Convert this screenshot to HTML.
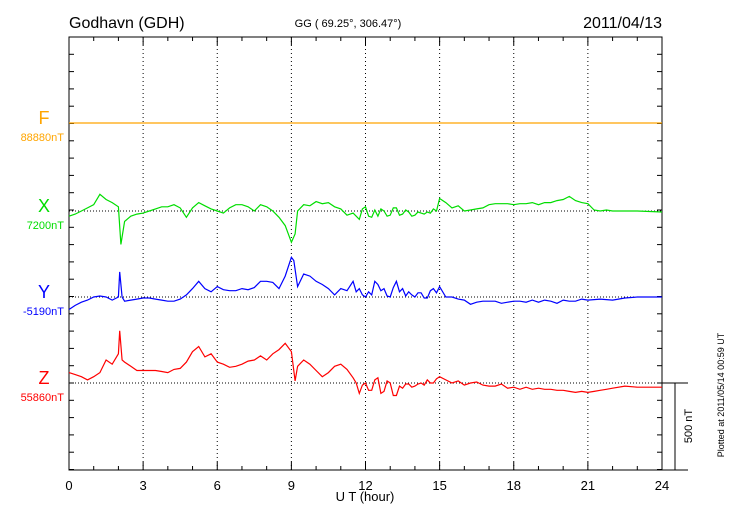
<!DOCTYPE html>
<html><head><meta charset="utf-8"><style>
body{margin:0;background:#fff;width:730px;height:520px;overflow:hidden}
svg text{font-family:"Liberation Sans",sans-serif}
</style></head><body>
<svg id="c" width="730" height="520" xmlns="http://www.w3.org/2000/svg">
<text x="69" y="28" font-size="16">Godhavn (GDH)</text>
<text x="348" y="27" font-size="11" text-anchor="middle">GG ( 69.25°, 306.47°)</text>
<text x="662" y="28" font-size="16" text-anchor="end">2011/04/13</text>
<text x="365" y="501" font-size="13" text-anchor="middle">U T (hour)</text>
<text transform="translate(724,395) rotate(-90)" font-size="9" text-anchor="middle">Plotted at 2011/05/14 00:59 UT</text>
<text transform="translate(692,426) rotate(-90)" font-size="11" text-anchor="middle">500 nT</text>
<g id="g"></g>
</svg>
<script>
const tickHours=[0,3,6,9,12,15,18,21,24];
const comps=["F","X","Y","Z"];
const baseLabels=["88880nT","7200nT","-5190nT","55860nT"];
const tF=[0,24];
const vF=[0,0];
const tMid=[11.5,11.625,11.75,11.875,12,12.125,12.25,12.375,12.5,12.625,12.75,12.875,13,13.125,13.25,13.375,13.5,13.625,13.75,13.875,14,14.125,14.25,14.375,14.5,14.625,14.75,14.875,15];
const tX=[0,0.25,0.5,0.75,1,1.25,1.5,1.75,2,2.1,2.25,2.5,2.75,3,3.25,3.5,3.75,4,4.25,4.5,4.75,5,5.25,5.5,5.75,6,6.25,6.5,6.75,7,7.25,7.5,7.75,8,8.25,8.5,8.75,9,9.15,9.25,9.5,9.75,10,10.25,10.5,10.75,11,11.25].concat(tMid,[15.25,15.5,15.75,16,16.25,16.5,16.75,17,17.25,17.5,17.75,18,18.25,18.5,18.75,19,19.25,19.5,19.75,20,20.25,20.5,20.75,21,21.25,21.5,21.75,22,23,24]);
const vX=[-30,-18,0,18,36,96,66,48,24,-192,-60,-30,-18,-12,0,12,24,24,36,18,-36,18,48,30,12,0,-12,18,36,36,24,0,36,24,0,-36,-84,-180,-132,0,36,30,54,42,48,24,12,-24,
-12,-30,-48,12,24,-30,-36,6,-30,12,0,-30,-24,18,18,-24,-18,6,-6,-30,-24,-6,-12,-18,-6,-12,12,0,72,
48,18,30,0,6,12,18,36,42,42,42,36,42,42,48,36,48,48,60,66,84,60,48,42,6,0,6,0,0,-6];
const tY=[0,0.25,0.5,0.75,1,1.25,1.5,1.75,2,2.05,2.15,2.25,2.5,2.75,3,3.25,3.5,3.75,4,4.25,4.5,4.75,5,5.25,5.5,5.75,6,6.25,6.5,6.75,7,7.25,7.5,7.75,8,8.25,8.5,8.75,9,9.1,9.25,9.5,9.75,10,10.25,10.5,10.75,11,11.25].concat(tMid,[15.25,15.5,15.75,16,16.25,16.5,16.75,17,17.25,17.5,17.75,18,18.25,18.5,18.75,19,19.25,19.5,19.75,20,20.25,20.5,20.75,21,21.5,22,22.5,23,23.5,24]);
const vY=[-72,-48,-30,-18,0,6,0,-18,0,144,0,-24,-18,-12,-6,-6,-12,-18,-24,-24,-12,12,48,90,48,30,60,42,36,36,48,42,54,90,90,84,48,120,228,210,60,132,120,90,72,48,12,48,36,
90,30,48,12,0,30,12,90,72,36,48,6,0,54,90,30,48,6,30,12,0,24,24,-6,-6,36,48,24,60,
0,0,-12,-18,-42,-30,-24,-24,-24,-36,-30,-24,-24,-30,-18,-30,-18,-24,-36,-18,-24,-24,-12,-18,-12,-18,-6,0,0,0];
const tZ=[0,0.25,0.5,0.75,1,1.25,1.5,1.75,2,2.05,2.15,2.25,2.5,2.75,3,3.25,3.5,3.75,4,4.25,4.5,4.75,5,5.25,5.5,5.75,6,6.25,6.5,6.75,7,7.25,7.5,7.75,8,8.25,8.5,8.75,9,9.15,9.25,9.5,9.75,10,10.25,10.5,10.75,11,11.25].concat(tMid,[15.25,15.5,15.75,16,16.25,16.5,16.75,17,17.25,17.5,17.75,18,18.25,18.5,18.75,19,19.25,19.5,19.75,20,20.25,20.5,20.75,21,21.25,21.5,21.75,22,22.5,23,23.5,24]);
const vZ=[60,48,36,18,36,60,132,108,168,300,132,120,96,72,72,72,72,66,60,78,84,120,180,210,150,168,120,108,90,96,108,126,132,156,132,168,192,228,180,12,96,132,108,72,36,60,96,108,78,
30,0,-60,-12,0,-42,-42,18,30,-60,-48,12,0,-72,-72,-18,-30,-6,-6,-24,-18,-6,0,-12,18,0,0,24,36,
18,0,12,-12,0,6,-12,-18,-18,-6,-30,-24,-36,-24,-36,-30,-36,-36,-42,-42,-48,-54,-48,-54,-48,-42,-36,-30,-18,-24,-24,-24];
const L=69,R=662,T=37,B=470;
const bases=[123,211,297,383];
const colors=["#ffa500","#00dd00","#0000ff","#ff0000"];
const pxPerNT=87/500;
const xs=h=>L+(R-L)*h/24;
const ys=(i,v)=>bases[i]-v*pxPerNT;
const NS="http://www.w3.org/2000/svg";
const g=document.getElementById('g');
function mk(tag,attrs){const e=document.createElementNS(NS,tag);for(const k in attrs)e.setAttribute(k,attrs[k]);g.appendChild(e);return e;}
tickHours.forEach(h=>{
  if(h>0&&h<24){const l=mk('line',{x1:xs(h),x2:xs(h),y1:T,y2:B,stroke:'#000','stroke-width':1,'stroke-dasharray':'1,3'});
  
  }
  const t=mk('text',{x:xs(h),y:490,'font-size':13,'text-anchor':'middle'});t.textContent=h;
  
  
});
for(let h=0;h<=24;h++){
  const len=h%3===0?8:4;
  const tk=mk('line',{x1:xs(h),x2:xs(h),y1:B,y2:B-len,stroke:'#000'});
  
  
  const tk2=mk('line',{x1:xs(h),x2:xs(h),y1:T,y2:T+len,stroke:'#000'});
  
  
}
for(let y=T+17.3;y<B;y+=17.3){
  const a=mk('line',{x1:L,x2:L+5,y1:y,y2:y,stroke:'#000'});
  
  
  const b=mk('line',{x1:R-5,x2:R,y1:y,y2:y,stroke:'#000'});
  
  
}
const frame=mk('rect',{x:L,y:T,width:R-L,height:B-T,fill:'none',stroke:'#000','stroke-width':1});


const series=[[tF,vF],[tX,vX],[tY,vY],[tZ,vZ]];
comps.forEach((c,i)=>{
  const bl=mk('line',{x1:L,x2:R,y1:bases[i],y2:bases[i],stroke:'#000','stroke-dasharray':'1,2'});
  
  
  const [tt,vv]=series[i];
  const d=tt.map((h,k)=>(k?'L':'M')+xs(h).toFixed(1)+','+ys(i,vv[k]).toFixed(1)).join('');
  const p=mk('path',{d:d,fill:'none',stroke:colors[i],'stroke-width':1.2});
  
  
  const lt=mk('text',{x:44,y:bases[i]+1,'font-size':18,fill:colors[i],'text-anchor':'middle'});lt.textContent=c;
  
  
  const bt=mk('text',{x:64,y:bases[i]+18,'font-size':11,fill:colors[i],'text-anchor':'end'});bt.textContent=baseLabels[i];
  
  
});
const s1=mk('line',{x1:675,x2:675,y1:383,y2:470,stroke:'#000'});


const s2=mk('line',{x1:662,x2:688,y1:383,y2:383,stroke:'#000'});


const s3=mk('line',{x1:662,x2:688,y1:470,y2:470,stroke:'#000'});


</script>
</body></html>
